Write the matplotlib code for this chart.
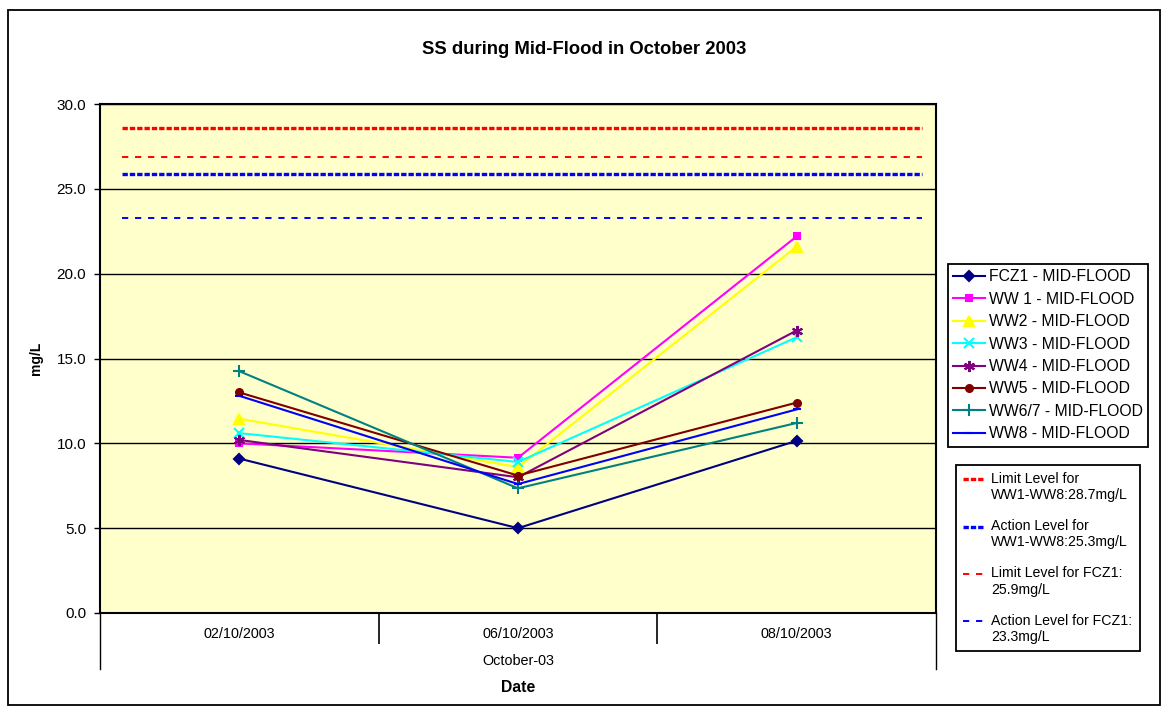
import numpy as np
import matplotlib
matplotlib.use("Agg")
import matplotlib.pyplot as plt
from matplotlib.patches import Rectangle

plt.rcParams['font.family'] = ['Liberation Sans', 'DejaVu Sans']

# data
dates = ["02/10/2003", "06/10/2003", "08/10/2003"]
series_names = ["FCZ1 - MID-FLOOD", "WW 1 - MID-FLOOD", "WW2 - MID-FLOOD",
                "WW3 - MID-FLOOD", "WW4 - MID-FLOOD", "WW5 - MID-FLOOD",
                "WW6/7 - MID-FLOOD", "WW8 - MID-FLOOD"]
fcz1 = [9.1, 5.0, 10.15]
ww1 = [10.0, 9.15, 22.2]
ww2 = [11.45, 8.6, 21.6]
ww3 = [10.6, 8.9, 16.25]
ww4 = [10.2, 8.0, 16.65]
ww5 = [13.0, 8.1, 12.4]
ww67 = [14.25, 7.35, 11.2]
ww8 = [12.8, 7.6, 12.0]

limit_names = ["Limit Level for\nWW1-WW8:28.7mg/L", "Action Level for\nWW1-WW8:25.3mg/L",
               "Limit Level for FCZ1:\n25.9mg/L", "Action Level for FCZ1:\n23.3mg/L"]
limit_values = [28.6, 25.85, 26.9, 23.3]

# styles
series_vals = [fcz1, ww1, ww2, ww3, ww4, ww5, ww67, ww8]
series_colors = ["#000080", "#FF00FF", "#FFFF00", "#00FFFF", "#800080", "#800000", "#008080", "#0000FF"]
series_markers = ["D", "s", "^", "x", (6, 2, 0), "o", "+", "_"]
series_msize = [5, 5, 7, 7, 8, 5, 8, 6]
limit_colors = ["#FF0000", "#0000FF", "#FF0000", "#0000FF"]
limit_styles = [(0, (1.6, 0.6)), (0, (1.6, 0.6)), (0, (3.2, 3.5)), (0, (3.2, 3.5))]
limit_widths = [2.4, 2.4, 1.4, 1.4]

W, H = 1165, 713
fig = plt.figure(figsize=(W / 100, H / 100), dpi=100)
fig.patch.set_facecolor("white")

# outer chart frame
fig.patches.append(Rectangle((8 / W, 1 - 705 / H), 1152 / W, 695 / H, transform=fig.transFigure,
                             fill=False, edgecolor="black", lw=1.3))

ax = fig.add_axes([100 / W, 1 - 613 / H, 836 / W, 509 / H])
ax.set_facecolor("#FFFFCC")

x = np.arange(len(dates))
lim_handles = []
for val, c, ls, lw in zip(limit_values, limit_colors, limit_styles, limit_widths):
    h, = ax.plot([-0.42, 2.45], [val, val], color=c, ls=ls, lw=lw, zorder=3)
    lim_handles.append(h)

ser_handles = []
for vals, c, m, ms in zip(series_vals, series_colors, series_markers, series_msize):
    h, = ax.plot(x, vals, color=c, marker=m, ms=ms, lw=1.5, mew=1.5, mfc=c, mec=c, zorder=4)
    ser_handles.append(h)

ax.set_xlim(-0.5, 2.5)
ax.set_ylim(0, 30)
ax.set_yticks(np.arange(0, 31, 5))
ax.yaxis.set_major_formatter(matplotlib.ticker.FormatStrFormatter("%.1f"))
ax.yaxis.grid(True, color="black", lw=1.0)
ax.set_axisbelow(True)
ax.tick_params(axis="y", length=4, width=1, pad=6, labelsize=11, colors="black")
for s in ax.spines.values():
    s.set_color("black")
    s.set_linewidth(1.5)

ax.set_xticks(x)
ax.set_xticklabels(dates)
ax.tick_params(axis="x", which="major", length=0, pad=10, labelsize=10.4)
ax.set_xticks([0.5, 1.5], minor=True)
ax.tick_params(axis="x", which="minor", length=22, width=1.2, color="black")

# outer category separators
for xa in (0, 1):
    ax.plot([xa, xa], [0, -56 / 509], transform=ax.transAxes, color="black", lw=1.0, clip_on=False)

ax.text(0.5, -48 / 509, "October-03", transform=ax.transAxes, ha="center", va="center", fontsize=10.4)
ax.text(0.5, -74 / 509, "Date", transform=ax.transAxes, ha="center", va="center", fontsize=11.3,
        fontweight="bold")
ax.set_ylabel("mg/L", fontsize=10, fontweight="bold")
ax.yaxis.set_label_coords(-57 / 836, 0.5)

fig.text(584 / W, 1 - 50 / H, "SS during Mid-Flood in October 2003", ha="center", va="center",
         fontsize=13.3, fontweight="bold")

leg1 = fig.legend(ser_handles, series_names, loc="upper left", bbox_to_anchor=(948 / W, 1 - 264 / H),
                  bbox_transform=fig.transFigure, borderaxespad=0, fontsize=11.3, numpoints=1,
                  handlelength=2.0, handletextpad=0.24, labelspacing=0.47, borderpad=0.35,
                  fancybox=False, framealpha=1, edgecolor="black")
leg1.get_frame().set_linewidth(1.3)

leg2 = fig.legend(lim_handles, limit_names, loc="upper left", bbox_to_anchor=(956 / W, 1 - 465 / H),
                  bbox_transform=fig.transFigure, borderaxespad=0, fontsize=10.2, handlelength=1.5,
                  handletextpad=0.5, labelspacing=1.2, borderpad=0.5,
                  fancybox=False, framealpha=1, edgecolor="black")
leg2.get_frame().set_linewidth(1.3)
# Excel puts the key next to the first line of a two-line entry
for ln in leg2.get_lines():
    ln.set_ydata(np.asarray(ln.get_ydata()) + 6.0)

fig.savefig("out.png", dpi=100)
